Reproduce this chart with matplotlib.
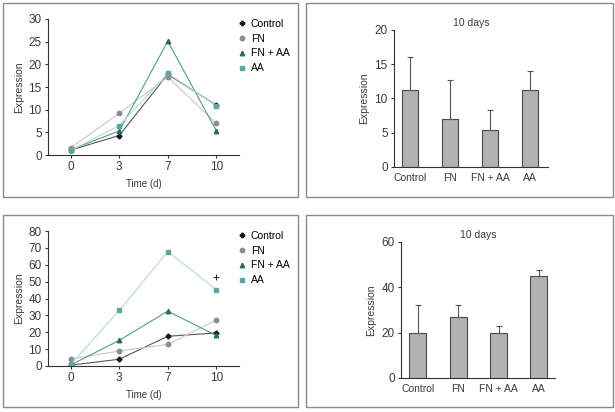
import matplotlib.pyplot as plt
from matplotlib.patches import Rectangle

# data
days = ["0", "3", "7", "10"]
groups = ["Control", "FN", "FN + AA", "AA"]

top_control = [1.1, 4.3, 17.8, 11.0]
top_fn = [1.6, 9.2, 17.2, 7.0]
top_fnaa = [1.2, 5.3, 25.1, 5.4]
top_aa = [1.0, 6.5, 18.0, 10.9]

bot_control = [0.5, 4.0, 17.6, 19.6]
bot_fn = [4.2, 8.9, 12.8, 27.2]
bot_fnaa = [0.6, 15.2, 32.5, 18.1]
bot_aa = [1.0, 32.9, 67.8, 45.3]
bot_sig = 52.8

bar_top = [11.2, 7.0, 5.4, 11.2]
bar_top_err = [4.9, 5.7, 2.9, 2.8]
bar_bot = [19.7, 27.0, 20.0, 45.2]
bar_bot_err = [12.6, 5.3, 3.0, 2.3]

W, H = 615, 412
plt.rcParams['font.family'] = ['Liberation Sans', 'DejaVu Sans']
fig = plt.figure(figsize=(W / 100, H / 100), dpi=100)
fs = 7.5
num_fs = 8.5
txt = "#3a3a3a"

styles = [
    dict(marker="P", color="#555555", mfc="#1a1a1a", mec="#1a1a1a", ms=3.2),
    dict(marker="o", color="#c8c8c8", mfc="#8d8d8d", mec="#8d8d8d", ms=3.2),
    dict(marker="^", color="#4f9c98", mfc="#2a6b68", mec="#2a6b68", ms=3.2),
    dict(marker="s", color="#b5d8d6", mfc="#5fa6a3", mec="#5fa6a3", ms=3.2),
]


def box(x0, y0, x1, y1):
    fig.patches.append(Rectangle((x0 / W, 1 - y1 / H), (x1 - x0) / W, (y1 - y0) / H,
                                 transform=fig.transFigure, fill=False,
                                 edgecolor="#8a8a8a", lw=1.0))


def axes_px(l, t, r, b):
    ax = fig.add_axes([l / W, 1 - b / H, (r - l) / W, (b - t) / H])
    for s in ["top", "right"]:
        ax.spines[s].set_visible(False)
    for s in ["left", "bottom"]:
        ax.spines[s].set_color("#333333")
        ax.spines[s].set_linewidth(0.8)
    ax.tick_params(labelsize=num_fs, length=2.5, width=0.8, color="#333333",
                   labelcolor=txt, pad=2)
    return ax


def line_panel(ax, series, ymax, step):
    xs = list(range(len(days)))
    for vals, name, st in zip(series, groups, styles):
        ax.plot(xs, vals, lw=0.8, label=name, **st)
    ax.set_xlim(-0.47, 3.47)
    ax.set_ylim(0, ymax)
    ax.set_yticks(range(0, ymax + 1, step))
    ax.set_xticks(xs)
    ax.set_xticklabels(days)
    ax.set_xlabel("Time (d)", fontsize=7, color=txt, labelpad=4)
    ax.set_ylabel("Expression", fontsize=fs, color=txt, labelpad=3)
    leg = ax.legend(loc="upper left", bbox_to_anchor=(0.98, 1.03), frameon=False,
                    fontsize=fs, handlelength=0.6, handletextpad=0.5,
                    labelspacing=0.45, borderaxespad=0)
    for h in leg.legend_handles:
        h.set_linestyle("none")


def bar_panel(ax, vals, err, ymax, step, xmin, xmax):
    xs = list(range(len(groups)))
    ax.bar(xs, vals, width=0.42, color="#b2b2b4", edgecolor="#4a4a4a", lw=0.8)
    ax.errorbar(xs, vals, yerr=[[0] * len(err), err], fmt="none",
                ecolor="#555555", elinewidth=0.8, capsize=2, capthick=0.8)
    ax.set_xlim(xmin, xmax)
    ax.set_ylim(0, ymax)
    ax.set_yticks(range(0, ymax + 1, step))
    ax.set_xticks(xs)
    ax.set_xticklabels(groups, fontsize=fs)
    ax.tick_params(axis="x", length=0, pad=4)
    ax.set_ylabel("Expression", fontsize=fs, color=txt, labelpad=4)
    ax.set_title("10 days", fontsize=fs, color=txt, pad=3)


box(3, 3, 298, 197)
box(306, 3, 613, 197)
box(3, 215, 298, 407)
box(306, 215, 613, 407)

ax1 = axes_px(48, 19, 239, 155)
line_panel(ax1, [top_control, top_fn, top_fnaa, top_aa], 30, 5)

ax2 = axes_px(394, 30, 548, 167)
bar_panel(ax2, bar_top, bar_top_err, 20, 5, -0.4, 3.45)

ax3 = axes_px(48, 231, 239, 366)
line_panel(ax3, [bot_control, bot_fn, bot_fnaa, bot_aa], 80, 10)
ax3.plot([3], [bot_sig], marker="+", color="#333333", ms=4, mew=0.8, ls="none")

ax4 = axes_px(401, 242, 555, 378)
bar_panel(ax4, bar_bot, bar_bot_err, 60, 20, -0.42, 3.4)

fig.savefig("out.png", dpi=100)
